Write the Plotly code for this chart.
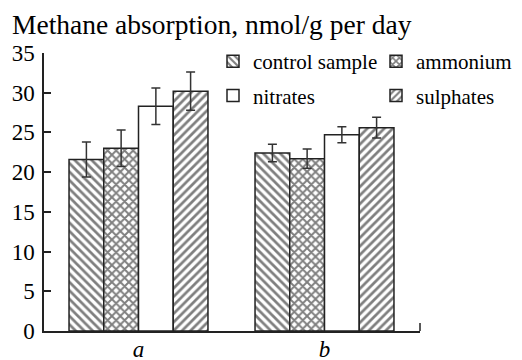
import plotly.graph_objects as go

groups = ["a", "b"]
series_names = ["control sample", "ammonium", "nitrates", "sulphates"]
control_vals = [21.6, 22.4]
control_err = [2.2, 1.1]
ammonium_vals = [23.0, 21.7]
ammonium_err = [2.3, 1.2]
nitrates_vals = [28.3, 24.7]
nitrates_err = [2.3, 1.0]
sulphates_vals = [30.2, 25.6]
sulphates_err = [2.4, 1.3]
y_ticks = [0, 5, 10, 15, 20, 25, 30, 35]
title_text = "Methane absorption, nmol/g per day"

FONT = "Liberation Serif"

values = [control_vals, ammonium_vals, nitrates_vals, sulphates_vals]
errors = [control_err, ammonium_err, nitrates_err, sulphates_err]
shapes = ["\\", "x", "", "/"]
solidities = [0.45, 0.55, 0.45, 0.45]
legend_ids = ["legend", "legend2", "legend", "legend2"]

fig = go.Figure()
for name, v, e, sh, so, lg in zip(series_names, values, errors, shapes, solidities, legend_ids):
    fig.add_trace(go.Bar(
        name=name, x=[0, 1], y=v, legend=lg, legendgroup=name,
        marker=dict(color="white",
                    line=dict(color="#222", width=1.5),
                    pattern=dict(shape=sh, fgcolor="black", bgcolor="white",
                                 size=6, solidity=so)),
        error_y=dict(type="data", array=e, visible=True, color="#333",
                     thickness=1.5, width=4.5),
    ))

leg_font = dict(family=FONT, size=21, color="black")
fig.update_layout(
    width=522, height=360,
    margin=dict(l=44, r=102, t=53, b=29, autoexpand=False),
    paper_bgcolor="white", plot_bgcolor="white",
    barmode="group", bargap=0.253, bargroupgap=0,
    font=dict(family=FONT, color="black", size=22),
    title=dict(text=title_text, font=dict(family=FONT, size=27.5, color="black"),
               x=12/522, xanchor="left", xref="container",
               y=1-24/360, yanchor="middle", yref="container",
               pad=dict(l=0, r=0, t=0, b=0)),
    legend=dict(x=213/522, orientation="v", xanchor="left", yanchor="top",
                xref="container", yref="container", y=1 - 41/360,
                tracegroupgap=4, traceorder="grouped",
                font=leg_font, bgcolor="rgba(0,0,0,0)"),
    legend2=dict(x=376/522, orientation="v", xanchor="left", yanchor="top",
                 xref="container", yref="container", y=1 - 41/360,
                 tracegroupgap=4, traceorder="grouped",
                 font=leg_font, bgcolor="rgba(0,0,0,0)"),
    showlegend=True,
)
fig.update_xaxes(
    range=[(44-138.5)/186, (420-138.5)/186],
    tickvals=[0, 1], ticktext=groups,
    tickfont=dict(family=FONT, size=23, style="italic", color="black"),
    ticklabelstandoff=-3,
    showline=True, linecolor="#222", linewidth=1.5,
    ticks="", showgrid=False, zeroline=False, automargin=False,
)
fig.update_yaxes(
    range=[0, 35], tickvals=y_ticks,
    tickfont=dict(family=FONT, size=23, color="black"),
    showline=True, linecolor="#222", linewidth=1.5,
    ticks="inside", ticklen=7, tickwidth=1.5, tickcolor="#222",
    ticklabelstandoff=3,
    showgrid=False, zeroline=False, automargin=False,
)
fig.add_shape(type="line", xref="paper", yref="y", x0=1, x1=1, y0=0, y1=1,
              line=dict(color="#222", width=1.5))
fig.write_html("out.html", config={"displayModeBar": False},
               post_script="document.body.style.margin='0';document.body.style.padding='0';")
